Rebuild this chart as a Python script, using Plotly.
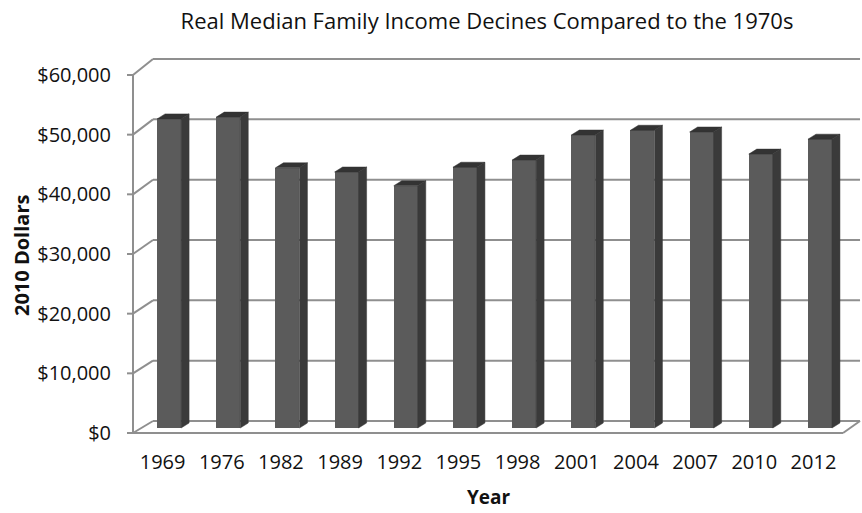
import plotly.graph_objects as go

# ---- data -------------------------------------------------------------
years = ["1969", "1976", "1982", "1989", "1992", "1995",
         "1998", "2001", "2004", "2007", "2010", "2012"]
income = [51800, 52100, 43600, 42900, 40600, 43700,
          44900, 49100, 49900, 49600, 45900, 48400]
y_tick_vals = [0, 10000, 20000, 30000, 40000, 50000, 60000]
y_tick_text = ["$0", "$10,000", "$20,000", "$30,000",
               "$40,000", "$50,000", "$60,000"]

# ---- pseudo-3D geometry (in axis units) -------------------------------
PX_PER_CAT = 59.17          # pixels per category slot
PX_PER_USD = 5.967e-3       # pixels per dollar on the front plane
def dx(px):
    return px / PX_PER_CAT
def dy(px):
    return px / PX_PER_USD

X_FRONT_L = -0.5
X_FRONT_R = len(years) - 0.5
X_BACK_L = X_FRONT_L + dx(20)
X_BACK_R = X_FRONT_R + dx(17)

def wall(v):
    # height of value v projected onto the back wall
    return dy(12) + v * 1.011

BAR_SHIFT = dx(6.5)   # bar front plane sits behind the floor edge
BAR_BASE = dy(5)
BAR_W = dx(24)
DEPTH_X = dx(8)
DEPTH_Y = dy(5)

GRID = "#8f8f8f"
FRONT = "#5b5b5b"
SIDE = "#3a3a3a"
TOP = "#333333"

fig = go.Figure()

xs = [i + BAR_SHIFT for i in range(len(years))]

# front faces
fig.add_trace(go.Bar(
    x=xs, y=income, base=BAR_BASE, width=BAR_W,
    marker=dict(color=FRONT, line=dict(width=0)),
    showlegend=False, hoverinfo="skip",
))

# side faces and top faces of each column
side_x, side_y, top_x, top_y = [], [], [], []
for x, v in zip(xs, income):
    xl = x - BAR_W / 2
    xr = x + BAR_W / 2
    t = BAR_BASE + v
    side_x += [xr, xr + DEPTH_X, xr + DEPTH_X, xr, xr, None]
    side_y += [BAR_BASE, BAR_BASE + DEPTH_Y, t + DEPTH_Y, t, BAR_BASE, None]
    top_x += [xl, xl + DEPTH_X, xr + DEPTH_X, xr, xl, None]
    top_y += [t, t + DEPTH_Y, t + DEPTH_Y, t, t, None]

fig.add_trace(go.Scatter(x=side_x, y=side_y, mode="lines", fill="toself",
                         fillcolor=SIDE, line=dict(width=0.5, color=SIDE),
                         showlegend=False, hoverinfo="skip"))
fig.add_trace(go.Scatter(x=top_x, y=top_y, mode="lines", fill="toself",
                         fillcolor=TOP, line=dict(width=0.5, color=TOP),
                         showlegend=False, hoverinfo="skip"))

# ---- walls, floor and front axis --------------------------------------
shapes = []
def seg(x0, y0, x1, y1, w=2):
    shapes.append(dict(type="line", xref="x", yref="y", x0=x0, y0=y0,
                       x1=x1, y1=y1, layer="below",
                       line=dict(color=GRID, width=w)))

for v in y_tick_vals:
    seg(X_FRONT_L, v, X_BACK_L, wall(v))          # diagonal to back wall
    seg(X_BACK_L, wall(v), X_BACK_R, wall(v))     # gridline on back wall
    seg(X_FRONT_L - dx(6), v, X_FRONT_L, v)       # tick mark
# floor front edge and right edge
seg(X_FRONT_L, 0, X_FRONT_R, 0)
seg(X_FRONT_R, 0, X_BACK_R, wall(0))
# front value axis
seg(X_FRONT_L, 0, X_FRONT_L, y_tick_vals[-1])

fig.update_layout(shapes=shapes)

# ---- layout -----------------------------------------------------------
W, H = 862, 513
plot_left, plot_top, plot_bottom = 126, 52, 436
front_zero_px = 433
x_min = X_FRONT_L - (133 - plot_left) / PX_PER_CAT
x_max = X_FRONT_L + (W - 133) / PX_PER_CAT
y_max = dy(front_zero_px - plot_top)
y_min = -dy(plot_bottom - front_zero_px)

font = "Open Sans, Noto Sans, sans-serif"

fig.update_layout(
    width=W, height=H,
    margin=dict(l=plot_left, r=0, t=plot_top, b=H - plot_bottom),
    paper_bgcolor="white", plot_bgcolor="white",
    font=dict(family=font, color="#111111"),
    title=dict(text="Real Median Family Income Decines Compared to the 1970s",
               x=487 / W, xanchor="center", y=1 - 21 / H, yanchor="middle",
               yref="container", font=dict(size=22, color="#111111")),
    xaxis=dict(range=[x_min, x_max], tickvals=list(range(len(years))),
               ticktext=years, showgrid=False, zeroline=False,
               showline=False, ticks="", tickfont=dict(size=20),
               ticklabelstandoff=12),
    yaxis=dict(range=[y_min, y_max], tickvals=y_tick_vals,
               ticktext=y_tick_text, showgrid=False, zeroline=False,
               showline=False, ticks="", tickfont=dict(size=20),
               ticklabelstandoff=14),
    annotations=[
        dict(text="<b>Year</b>", xref="paper", yref="paper",
             x=(489 - plot_left) / (W - plot_left),
             y=-(497 - plot_bottom) / (plot_bottom - plot_top),
             xanchor="center", yanchor="middle", showarrow=False,
             font=dict(size=19)),
        dict(text="<b>2010 Dollars</b>", xref="paper", yref="paper",
             x=-(plot_left - 21) / (W - plot_left),
             y=(plot_bottom - 256) / (plot_bottom - plot_top),
             xanchor="center", yanchor="middle", showarrow=False,
             textangle=-90, font=dict(size=20)),
    ],
    bargap=0,
)

fig.write_html("out.html")
